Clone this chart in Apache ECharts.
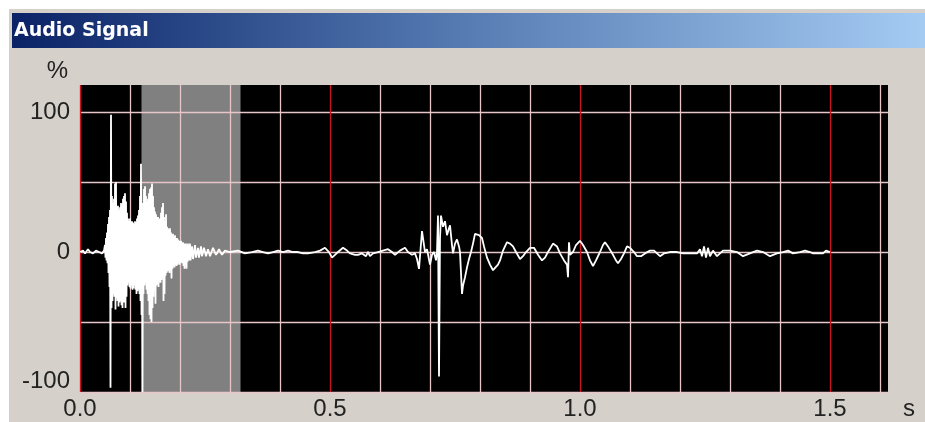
<!DOCTYPE html>
<html>
<head>
<meta charset="utf-8">
<title>Audio Signal</title>
<script src="https://cdn.jsdelivr.net/npm/echarts@6/dist/echarts.min.js"></script>
<style>
	html, body { margin: 0; padding: 0; background: #fff; }
	#echarts_box { width: 925px; height: 422px; }
</style>
</head>
<body>
<div id="echarts_box"></div>
<script>
/*x轴标签 (s) / y轴标签 (%)*/
var xTickLabels = [0.0, 0.5, 1.0, 1.5];
var yTickLabels = [100, 0, -100];
/*灰色标记区间 (s)*/
var markedSpan = [0.123, 0.321];

/*起始静音段 [s, %]*/
var leadIn = [
	[0.000, 0], [0.006, 1], [0.010, -1], [0.016, 2], [0.020, 0], [0.026, -1],
	[0.032, 1], [0.038, 0], [0.044, -1], [0.048, 1]
];
/*第一次撞击, 每1ms一个采样*/
var burstStart = 0.050;
var burstStep = 0.001;
var burstLevels = [
	5, -4, 10, -6, 14, -8, 20, -15, 25, -25, 30, -97, 98, -40, 40, -35, 35, -30, 38, -32,
	49, -41, 50, -33, 32, -35, 33, -39, 30, -36, 32, -35, 35, -38, 34, -40, 38, -36, 40, -36,
	42, -40, 36, -32, 28, -24, 24, -22, 22, -25, 24, -26, 22, -24, 22, -27, 21, -26, 20, -24,
	22, -27, 21, -30, 24, -28, 26, -27, 30, -30, 40, -35, 63, -45, 30, -100, 35, -30, 45, -24,
	47, -22, 40, -27, 36, -30, 38, -35, 42, -45, 45, -48, 46, -50, 49, -40, 40, -32, 32, -27,
	29, -37, 27, -24, 25, -23, 25, -25, 23, -22, 24, -22, 28, -20, 32, -18, 35, -35, 25, -30,
	22, -17, 27, -15, 18, -14, 17, -13, 16, -15, 17, -13, 14, -19, 12, -12, 13, -10, 11, -11,
	12, -9, 10, -10, 10, -9, 9, -8, 8, -9, 8, -8, 8, -7, 7, -8, 7, -10, 6, -12,
	6, -8, 6, -12, 5, -7, 6, -6, 5, -6, 6, -6
];
/*衰减尾部*/
var decayTail = [
	[0.224, 4], [0.226, -5], [0.230, 5], [0.232, -4], [0.236, 3], [0.238, -4], [0.242, 4],
	[0.244, -3], [0.248, 3], [0.252, -3], [0.256, 2], [0.260, -3], [0.266, 3], [0.272, -2],
	[0.278, 2], [0.284, -2], [0.290, 1], [0.300, 0], [0.316, 1], [0.330, -1], [0.344, 0],
	[0.356, 1], [0.366, 0], [0.376, -1], [0.386, 0], [0.396, 1], [0.406, 0], [0.416, 1],
	[0.426, 0], [0.436, 0], [0.446, -1], [0.456, -1], [0.470, 0], [0.480, 1], [0.490, 3],
	[0.498, 0], [0.504, -4], [0.510, -2], [0.516, 0], [0.526, 3], [0.534, 1], [0.540, -1],
	[0.550, -2], [0.556, -2], [0.564, -1], [0.572, -3], [0.576, 0], [0.580, -3], [0.586, -1],
	[0.596, 0], [0.606, 1], [0.616, 2], [0.624, 0], [0.630, -2], [0.640, 1], [0.650, 3],
	[0.656, 0], [0.664, -2], [0.670, -1], [0.674, -5], [0.678, -12], [0.680, -3], [0.684, 15],
	[0.688, 5], [0.690, 0]
];
/*第二次撞击*/
var secondHit = [
	[0.694, 2], [0.700, -9], [0.704, -2], [0.708, 0], [0.712, -6], [0.714, 0], [0.716, 26],
	[0.718, -89], [0.720, 10], [0.722, 26], [0.726, 18], [0.730, 22], [0.734, 12], [0.738, 17],
	[0.740, 19], [0.744, 5], [0.746, -1], [0.750, 6], [0.754, 9], [0.758, 4], [0.760, 0],
	[0.762, -15], [0.764, -30], [0.766, -24], [0.770, -18], [0.774, -11], [0.778, -5]
];
/*余振*/
var ringDown = [
	[0.782, 0], [0.786, 6], [0.790, 13], [0.794, 14], [0.798, 12], [0.804, 10], [0.808, 4],
	[0.814, -4], [0.820, -9], [0.826, -13], [0.830, -14], [0.836, -9], [0.840, -6], [0.846, 1],
	[0.854, 7], [0.860, 6], [0.866, 4], [0.872, 0], [0.880, -5], [0.886, -3], [0.892, 0],
	[0.900, 3], [0.908, 3], [0.916, -2], [0.924, -6], [0.930, -4], [0.936, 0], [0.946, 6],
	[0.954, 4], [0.960, -1], [0.968, -6], [0.974, -9], [0.976, -18], [0.978, 7], [0.980, -2],
	[0.986, 0], [0.992, 5], [1.000, 8], [1.006, 5], [1.014, 0], [1.020, -6], [1.026, -10],
	[1.032, -6], [1.040, 0], [1.046, 5], [1.050, 7], [1.056, 4], [1.066, -2], [1.072, -6],
	[1.076, -8], [1.082, -5], [1.088, -1], [1.094, 4], [1.100, 3], [1.108, 0], [1.114, -3],
	[1.122, -3], [1.130, -1], [1.140, 1], [1.148, 1], [1.160, -3], [1.168, -1], [1.180, 0],
	[1.194, 0], [1.206, -1], [1.220, -1], [1.234, -1], [1.240, 2], [1.244, -3], [1.248, 4],
	[1.252, -4], [1.256, 3], [1.260, -3], [1.266, 1], [1.274, -3], [1.286, 1], [1.300, 1],
	[1.314, 0], [1.326, -3], [1.340, -1], [1.354, 1], [1.366, 0], [1.380, -3], [1.394, -1],
	[1.406, 0], [1.416, 1], [1.426, -1], [1.440, 0], [1.450, 1], [1.460, 0], [1.466, -1],
	[1.476, -1], [1.486, -1], [1.492, 1], [1.496, 2], [1.500, 0]
];

var signalChart = function() {
	this.mychart;
	/*合并后的曲线数据*/
	this.points;
}
signalChart.prototype.init = function() {
	var pts = leadIn.slice();
	for(var i = 0; i < burstLevels.length; i++) {
		pts.push([+(burstStart + i * burstStep).toFixed(3), burstLevels[i]]);
	}
	this.points = pts.concat(decayTail, secondHit, ringDown);
}
signalChart.prototype.draw = function() {
	this.mychart = echarts.init(document.getElementById('echarts_box'));
	var pink = '#e6c6c6';
	var red = '#cc1420';
	var labelFont = 'Liberation Sans';
	var option = {
		animation: false,
		backgroundColor: '#fff',
		graphic: [{
			type: 'rect',
			z: -10,
			shape: { x: 9, y: 9, width: 916, height: 413 },
			style: { fill: '#d5d1ca' }
		}, {
			type: 'rect',
			z: -9,
			shape: { x: 12, y: 13, width: 913, height: 35 },
			style: {
				fill: new echarts.graphic.LinearGradient(0, 0, 1, 0, [
					{ offset: 0, color: '#0a2266' },
					{ offset: 0.45, color: '#4f74ad' },
					{ offset: 1, color: '#a4cbf2' }
				])
			}
		}],
		title: {
			text: 'Audio Signal',
			left: 14,
			top: 22,
			padding: 0,
			textStyle: {
				color: '#fff',
				fontFamily: 'DejaVu Sans',
				fontWeight: 'bold',
				fontSize: 19
			}
		},
		grid: {
			left: 80,
			right: 37,
			top: 85,
			bottom: 30,
			show: true,
			backgroundColor: '#000',
			borderWidth: 0
		},
		xAxis: {
			type: 'value',
			min: 0,
			max: 1.616,
			interval: 0.1,
			z: 3,
			name: 's',
			nameLocation: 'end',
			nameGap: 15,
			nameTextStyle: {
				color: '#222',
				fontFamily: labelFont,
				fontSize: 24,
				align: 'left',
				verticalAlign: 'top',
				padding: [5, 0, 0, 0]
			},
			axisLine: { show: false, onZero: false },
			axisTick: { show: false },
			axisLabel: {
				color: '#222',
				fontFamily: labelFont,
				fontSize: 24,
				margin: 5,
				showMaxLabel: false,
				formatter: function(v) {
					for(var i = 0; i < xTickLabels.length; i++) {
						if(Math.abs(v - xTickLabels[i]) < 1e-6) return xTickLabels[i].toFixed(1);
					}
					return '';
				}
			},
			splitLine: {
				show: true,
				showMaxLine: false,
				lineStyle: { color: [red, pink, pink, pink, pink], width: 1.3 }
			}
		},
		yAxis: {
			type: 'value',
			min: -100,
			max: 119.3,
			interval: 50,
			z: 3,
			name: '%',
			nameLocation: 'end',
			nameGap: 14,
			nameTextStyle: {
				color: '#222',
				fontFamily: labelFont,
				fontSize: 24,
				align: 'right',
				verticalAlign: 'middle',
				padding: [0, 12, 0, 0]
			},
			axisLine: { show: false },
			axisTick: { show: false },
			axisLabel: {
				color: '#222',
				fontFamily: labelFont,
				fontSize: 24,
				margin: 10,
				showMaxLabel: false,
				formatter: function(v) {
					if(yTickLabels.indexOf(v) < 0) return '';
					return v === -100 ? '{low|' + v + '}' : String(v);
				},
				rich: {
					low: { fontFamily: labelFont, fontSize: 24, color: '#222', padding: [0, 0, 22, 0] }
				}
			},
			splitLine: {
				show: true,
				showMaxLine: false,
				lineStyle: { color: pink, width: 1.3 }
			}
		},
		series: [{
			/*灰色区间*/
			type: 'line',
			z: 1,
			data: [[0, 0]],
			symbol: 'none',
			lineStyle: { width: 0, opacity: 0 },
			markArea: {
				silent: true,
				itemStyle: { color: '#808080' },
				data: [[{ xAxis: markedSpan[0] }, { xAxis: markedSpan[1] }]]
			}
		}, {
			name: 'Audio Signal',
			type: 'line',
			z: 5,
			data: this.points,
			showSymbol: false,
			symbol: 'none',
			sampling: null,
			lineStyle: { color: '#fff', width: 1.8 }
		}]
	};
	this.mychart.setOption(option);
}

var chartFun = new signalChart();
chartFun.init();
chartFun.draw();
</script>
</body>
</html>
